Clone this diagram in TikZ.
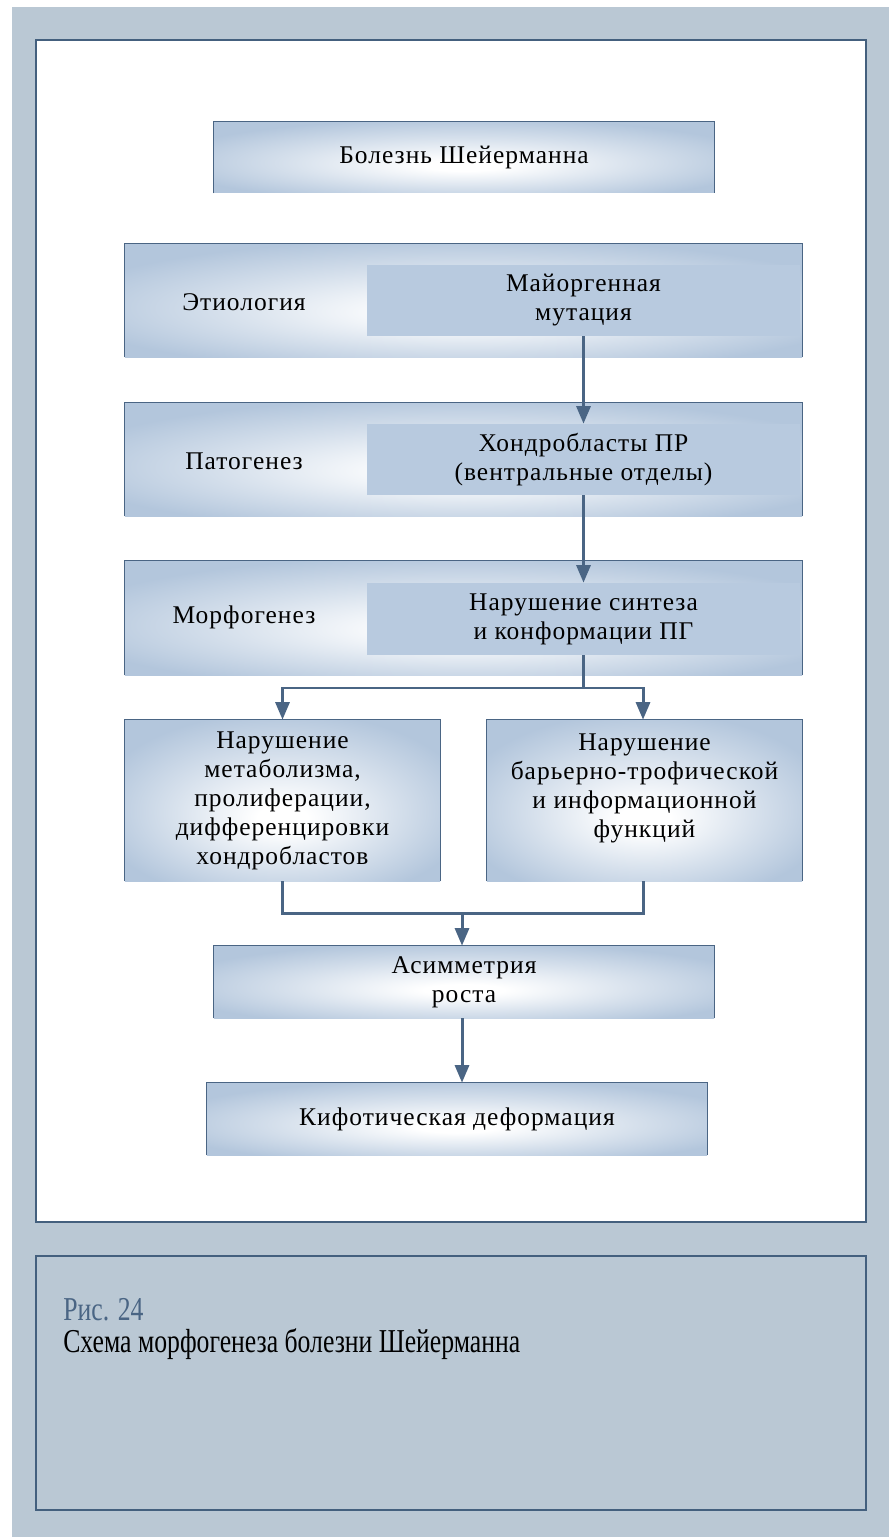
\documentclass[tikz,border=0pt]{standalone}
\usepackage{fontspec}
\setmainfont{Liberation Serif}[LetterSpace=4]
\newfontfamily\capfont[FakeStretch=0.77]{Liberation Serif}
\usetikzlibrary{arrows.meta}
\definecolor{pagegray}{HTML}{BAC8D4}
\definecolor{frameblue}{HTML}{44607E}
\definecolor{boxblue}{HTML}{B3C6DC}
\definecolor{innerblue}{HTML}{B8CADF}
\definecolor{arrowblue}{HTML}{4A6584}
\pgfdeclareradialshading{boxglow}{\pgfpoint{0bp}{-6bp}}{color(0bp)=(white); color(4bp)=(white);
	color(18bp)=(white!45!boxblue); color(30bp)=(boxblue); color(50bp)=(boxblue)}

\begin{document}
\begin{tikzpicture}[x=0.02cm,y=-0.02cm,
		every node/.style={font=\fontsize{14.5}{16.5}\selectfont, align=center, inner sep=0pt},
		gradbox/.style 2 args={shading=boxglow, minimum width=#1*0.02cm, minimum height=#2*0.02cm},
		innerbox/.style 2 args={fill=innerblue, minimum width=#1*0.02cm, minimum height=#2*0.02cm},
		boxedge/.style={draw=arrowblue, line width=0.6pt},
		flow/.style={draw=arrowblue, line width=1.7pt},
		flowarrow/.style={flow, -{Triangle[width=8pt,length=10pt]}}]
		\useasboundingbox (0,0) rectangle (889,1537);
		\fill[white] (0,0) rectangle (889,1537);
		\fill[pagegray] (12,7) rectangle (889,1537);
		\draw[frameblue, line width=1.6pt, fill=white] (36,40) rectangle (866,1222);
		\draw[frameblue, line width=0.6pt, fill=pagegray] (36,1256) rectangle (866,1510);
		% caption
		\node[anchor=base west, font=\capfont\fontsize{19}{22}\selectfont, text=arrowblue] (fig) at (63,1320) {Рис. 24};
		\node[anchor=base west, font=\capfont\fontsize{19}{22}\selectfont] (cap) at (63,1352) {Схема морфогенеза болезни Шейерманна};
		% boxes
		\node[gradbox={500}{71}] (disease) at (464,157.5) {Болезнь Шейерманна};
		\node[gradbox={677}{113}] (etio) at (463.5,300.5) {};
		\node[gradbox={677}{113}] (patho) at (463.5,459.5) {};
		\node[gradbox={677}{114}] (morpho) at (463.5,618) {};
		\node[innerbox={433}{71}] (mutation) at (583.5,300.5) {Майоргенная\\мутация};
		\node[innerbox={433}{71}] (chondro) at (583.5,459.5) {Хондробласты ПР\\(вентральные отделы)};
		\node[innerbox={433}{72}] (synth) at (583.5,619) {Нарушение синтеза\\и конформации ПГ};
		\node (etiolab) at (244,302) {Этиология};
		\node (patholab) at (244,461) {Патогенез};
		\node (morpholab) at (244,617) {Морфогенез};
		\node[gradbox={315}{161}] (metab) at (282.5,800.5) {Нарушение\\метаболизма,\\пролиферации,\\дифференцировки\\хондробластов};
		\node[gradbox={315}{161}, text depth=29*0.02cm] (barrier) at (644.5,800.5) {Нарушение\\барьерно-трофической\\и информационной\\функций};
		\node[gradbox={500}{72}] (asym) at (464,982) {Асимметрия\\роста};
		\node[gradbox={500}{72}] (kypho) at (457,1119) {Кифотическая деформация};
		% box edges
		\foreach \n in {disease,etio,patho,morpho,metab,barrier,asym,kypho}
			\draw[boxedge] (\n.south west) |- (\n.north east) -- (\n.south east);
		% connectors
		\draw[flowarrow] (mutation.south) -- (chondro.north);
		\draw[flowarrow] (chondro.south) -- (synth.north);
		\coordinate (split) at (583.5,688);
		\coordinate (join) at (462,913);
		\draw[flow] (synth.south) -- (split);
		\draw[flowarrow] (split) -| (metab.north);
		\draw[flowarrow] (split) -| (barrier.north -| 643,0);
		\draw[flow] (metab.south) |- (join);
		\draw[flow] (barrier.south -| 643,0) |- (join);
		\draw[flowarrow] (join) -- (asym.north -| join);
		\draw[flowarrow] (asym.south -| join) -- (kypho.north -| join);
	\end{tikzpicture}
\end{document}
